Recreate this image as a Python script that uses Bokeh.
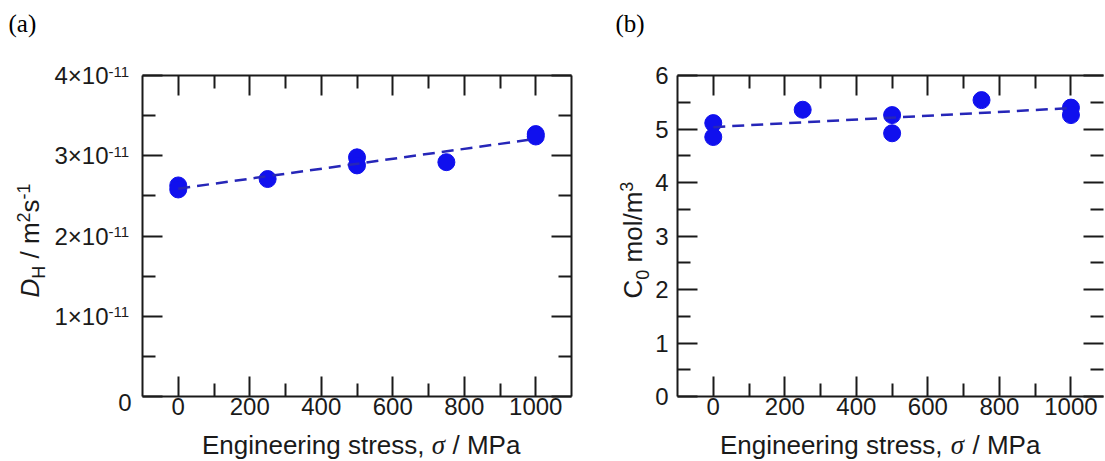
import math
from bokeh.plotting import figure
from bokeh.models import Range1d, LinearAxis, FixedTicker, Label, GridBox
from bokeh.layouts import row
from bokeh.embed import file_html
from bokeh.resources import INLINE

# ---------------- data ----------------
stress_a = [0, 0, 250, 500, 500, 750, 1000, 1000]
diff_coeff = [2.63e-11, 2.58e-11, 2.71e-11, 2.98e-11, 2.88e-11, 2.92e-11, 3.27e-11, 3.24e-11]
fit_a_x = [0, 1000]
fit_a_y = [2.59e-11, 3.21e-11]

stress_b = [0, 0, 250, 500, 500, 750, 1000, 1000]
conc_b = [5.11, 4.85, 5.36, 5.26, 4.92, 5.54, 5.40, 5.26]
fit_b_x = [0, 1000]
fit_b_y = [5.035, 5.39]

x_major = [0, 200, 400, 600, 800, 1000]
x_minor = [100, 300, 500, 700, 900]
ya_major = [0, 1, 2, 3, 4]            # in units of 1e-11
ya_minor = [0.5, 1.5, 2.5, 3.5]
ya_mant = ["0", "1×10", "2×10", "3×10", "4×10"]
ya_exp = ["", "-11", "-11", "-11", "-11"]
yb_major = [0, 1, 2, 3, 4, 5, 6]
yb_minor = [0.5, 1.5, 2.5, 3.5, 4.5, 5.5]

SANS = "Liberation Sans"
SERIF = "Liberation Serif"
INK = "#1a1a1a"
PT_COLOR = "#1010ee"
LINE_COLOR = "#2626b8"
W, H = 1105, 460

# frame geometry (page pixels)
A_L, A_T, A_W, A_H = 142, 73, 429, 321
B_X0 = 606
B_L, B_T, B_W, B_H = 677, 75, 426, 321

AW = {'D': .722, 'H': .722, ' ': .278, '/': .278, 'm': .833, '2': .556, 's': .5,
      '-': .333, '1': .556, 'C': .722, '0': .556, 'o': .556, 'l': .222, '3': .556}
MID = 0.3465   # em-box middle above the baseline


def tw(text, size):
    return sum(AW.get(c, .556) for c in text) * size


def style_axis(ax, major, minor, show_labels=True, standoff=5, line=True):
    ax.ticker = FixedTicker(ticks=major, minor_ticks=minor)
    ax.axis_line_color = INK if line else None
    ax.axis_line_width = 2
    ax.major_tick_in = 20
    ax.major_tick_out = 0
    ax.minor_tick_in = 13
    ax.minor_tick_out = 0
    ax.major_tick_line_color = INK
    ax.major_tick_line_width = 2
    ax.minor_tick_line_color = INK
    ax.minor_tick_line_width = 2
    ax.axis_label = None
    if show_labels:
        ax.major_label_text_font = SANS
        ax.major_label_text_font_size = "24px"
        ax.major_label_text_color = INK
        ax.major_label_standoff = standoff
    else:
        ax.major_label_text_font_size = "0px"
        ax.major_label_text_alpha = 0
        ax.major_label_standoff = 0


def base_fig(fw, fh, bl, br, bt, bb, xr, yr):
    p = figure(frame_width=fw, frame_height=fh, min_border_left=bl, min_border_right=br,
               min_border_top=bt, min_border_bottom=bb, x_range=Range1d(*xr), y_range=Range1d(*yr),
               output_backend="svg", toolbar_location=None)
    p.grid.visible = False
    p.outline_line_color = None
    p.background_fill_color = "white"
    p.border_fill_color = "white"
    return p


# ---------------- panel (a) ----------------
XR_A = (-100, 1100)
YR_A = (0, 4)
p1 = base_fig(A_W, A_H, A_L, B_X0 - A_L - A_W, A_T, H - A_T - A_H, XR_A, YR_A)
style_axis(p1.xaxis[0], x_major, x_minor, standoff=1)
style_axis(p1.yaxis[0], ya_major, ya_minor, show_labels=False)
top1 = LinearAxis()
style_axis(top1, x_major, x_minor, show_labels=False)
p1.add_layout(top1, "above")
right1 = LinearAxis()
style_axis(right1, ya_major, ya_minor, show_labels=False)
p1.add_layout(right1, "right")

ya_vals = [v / 1e-11 for v in diff_coeff]
fa_vals = [v / 1e-11 for v in fit_a_y]
p1.scatter(stress_a, ya_vals, size=17, fill_color=PT_COLOR, line_color=PT_COLOR)
p1.line(fit_a_x, fa_vals, line_dash="12 7", line_width=2.5, line_color=LINE_COLOR)

# ---------------- panel (b) ----------------
XR_B = (-100, 1091)
YR_B = (0, 6)
p2 = base_fig(B_W, B_H, B_L - B_X0, W - B_X0 - (B_L - B_X0) - B_W, B_T, H - B_T - B_H, XR_B, YR_B)
style_axis(p2.xaxis[0], x_major, x_minor, standoff=1)
style_axis(p2.yaxis[0], yb_major, yb_minor, standoff=9)
top2 = LinearAxis()
style_axis(top2, x_major, x_minor, show_labels=False)
p2.add_layout(top2, "above")
right2 = LinearAxis()
style_axis(right2, yb_major, yb_minor, show_labels=False, line=False)
p2.add_layout(right2, "right")

p2.scatter(stress_b, conc_b, size=17, fill_color=PT_COLOR, line_color=PT_COLOR)
p2.line(fit_b_x, fit_b_y, line_dash="12 7", line_width=2.5, line_color=LINE_COLOR)

# ---------------- transparent text overlay (page-pixel coordinates) ----------------
ov = figure(frame_width=W, frame_height=H, min_border=0, x_range=Range1d(0, W), y_range=Range1d(H, 0),
            x_axis_type=None, y_axis_type=None, output_backend="svg", toolbar_location=None)
ov.grid.visible = False
ov.outline_line_color = None
ov.background_fill_color = None
ov.border_fill_color = None


def put(x, y, text, size, font=SANS, style="normal", align="left", angle=0.0, color=INK):
    """y (or x for rotated text) is the middle of the text's em box."""
    ov.add_layout(Label(x=x, y=y, text=text, angle=angle, text_font=font,
                        text_font_size=f"{size}px", text_font_style=style, text_color=color,
                        text_align=align, text_baseline="middle"))


def rot_label(bx, by, pieces):
    """Vertical label reading upwards from (bx = baseline x, by = start y).
    pieces = (text, size, style, baseline shift to the right, gap before)."""
    pos = by
    for text, size, style, shift, gap in pieces:
        pos -= gap
        put(bx + shift - MID * size, pos, text, size, style=style, angle=math.pi / 2)
        pos -= tw(text, size)


def x_label(x_comma, x_sigma, x_slash, base, size=26):
    ym = base - MID * size
    put(x_comma, ym, "Engineering stress,", size, align="right")
    put(x_sigma, ym, "σ", size + 1, font=SERIF, style="italic", align="center")
    put(x_slash, ym, "/ MPa", size, align="left")


# panel (a) texts
put(8, 23, "(a)", 25, font=SERIF, color="black")
for t, mant, ex in zip(ya_major, ya_mant, ya_exp):
    ty = A_T + A_H - (t - YR_A[0]) / (YR_A[1] - YR_A[0]) * A_H
    if ex:
        put(108, ty + 2, mant, 24, align="right")
        put(108, ty - 2, ex, 15, align="left")
    else:
        put(131, ty + 8, mant, 24, align="right")
sp = 0.278 * 26
rot_label(39, 297, [("D", 26, "italic", 0, 0), ("H", 18, "normal", 6, 0),
                    ("/", 26, "normal", 0, sp), ("m", 26, "normal", 0, sp),
                    ("2", 18, "normal", -10, 0), ("s", 26, "normal", 0, 0),
                    ("-1", 18, "normal", -10, 0)])
x_label(424, 438, 452, 454)

# panel (b) texts
put(615, 23, "(b)", 25, font=SERIF, color="black")
sp2 = 0.278 * 26
rot_label(642, 298, [("C", 26, "normal", 0, 0), ("0", 18, "normal", 6, 0),
                     ("mol/m", 26, "normal", 0, sp2), ("3", 18, "normal", -10, 0)])
x_label(942, 957, 972, 454)

layout = GridBox(children=[(row(p1, p2), 0, 0), (ov, 0, 0)])
open("out.html", "w").write(file_html(layout, INLINE))
